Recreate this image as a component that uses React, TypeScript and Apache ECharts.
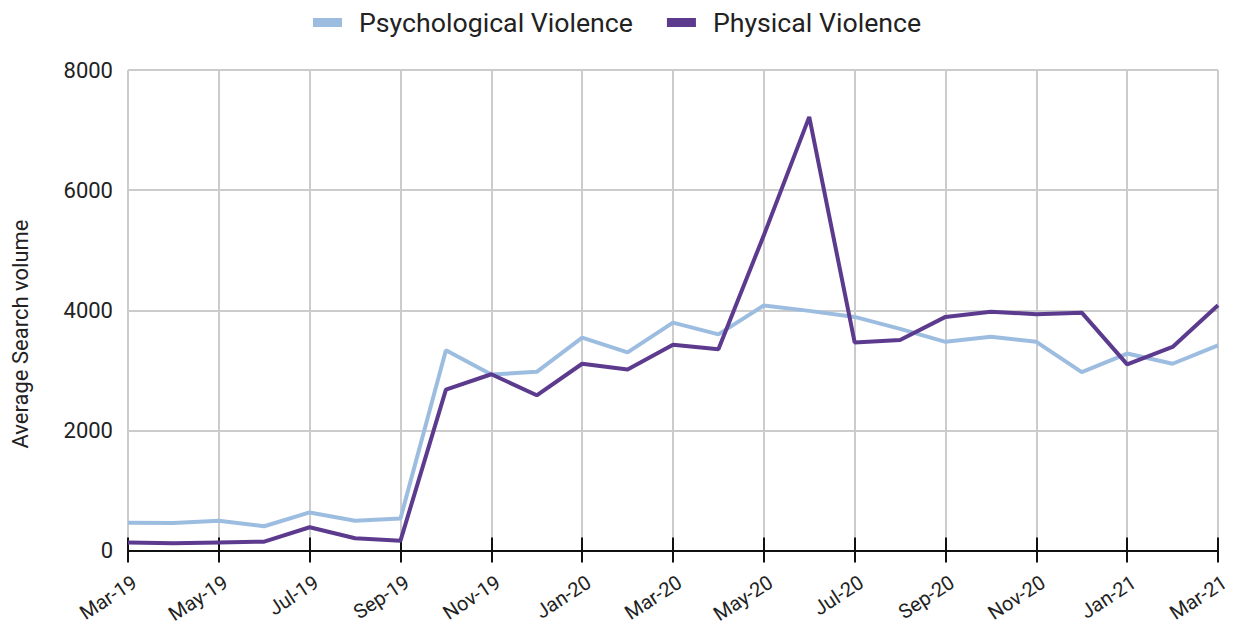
import React, { useEffect, useRef } from "react";
import * as echarts from "echarts";

const months = [
  "Mar-19", "Apr-19", "May-19", "Jun-19", "Jul-19", "Aug-19", "Sep-19", "Oct-19", "Nov-19", "Dec-19",
  "Jan-20", "Feb-20", "Mar-20", "Apr-20", "May-20", "Jun-20", "Jul-20", "Aug-20", "Sep-20", "Oct-20",
  "Nov-20", "Dec-20", "Jan-21", "Feb-21", "Mar-21",
];

const psychological = [
  465, 460, 495, 405, 635, 495, 535, 3335, 2930, 2975,
  3545, 3300, 3795, 3600, 4080, 3990, 3890, 3690, 3475, 3560,
  3475, 2970, 3280, 3110, 3415,
];

const physical = [
  135, 122, 135, 148, 388, 205, 165, 2680, 2935, 2585,
  3110, 3015, 3425, 3350, 5250, 7220, 3465, 3505, 3890, 3975,
  3935, 3960, 3100, 3390, 4085,
];

const yTicks = { min: 0, max: 8000, interval: 2000 };

export default function App() {
  const ref = useRef<HTMLDivElement>(null);
  useEffect(() => {
    if (!ref.current) return;
    document.body.style.margin = "0";
    const chart = echarts.init(ref.current, undefined, { renderer: "svg" });
    const font = "Roboto, 'Noto Sans', sans-serif";
    chart.setOption({
      animation: false,
      backgroundColor: "#ffffff",
      legend: {
        top: 4,
        left: 308,
        itemWidth: 29,
        itemHeight: 9,
        itemGap: 34,
        icon: "rect",
        textStyle: { fontFamily: font, fontSize: 26.7, color: "#222", padding: [0, 0, 0, 12] },
        data: ["Psychological Violence", "Physical Violence"],
      },
      grid: { left: 128, right: 20, top: 70, bottom: 74.5, containLabel: false },
      graphic: [
        {
          type: "text",
          x: 20,
          y: 334,
          rotation: Math.PI / 2,
          style: {
            text: "Average Search volume",
            fontFamily: font,
            fontSize: 22,
            fill: "#222",
            align: "center",
            verticalAlign: "middle",
          },
        },
      ],
      xAxis: [
        {
          type: "category",
          data: months,
          boundaryGap: false,
          position: "bottom",
          axisLine: { show: true, lineStyle: { color: "#111", width: 2 } },
          axisTick: {
            show: true,
            inside: true,
            length: 13,
            interval: (i: number) => i % 2 === 0,
            lineStyle: { color: "#111", width: 2 },
          },
          axisLabel: {
            interval: (i: number) => i % 2 === 0,
            rotate: 33,
            margin: 34,
            fontFamily: font,
            fontSize: 20,
            color: "#222",
            padding: [0, -8, 0, 0],
          },
          splitLine: {
            show: true,
            interval: (i: number) => i % 2 === 0,
            lineStyle: { color: "#cccccc", width: 2 },
          },
        },
        {
          type: "category",
          data: months,
          boundaryGap: false,
          position: "bottom",
          axisLine: { show: false },
          axisTick: {
            show: true,
            inside: false,
            length: 12,
            interval: (i: number) => i % 2 === 0,
            lineStyle: { color: "#111", width: 2 },
          },
          axisLabel: { show: false },
          splitLine: { show: false },
        },
      ],
      yAxis: {
        type: "value",
        min: yTicks.min,
        max: yTicks.max,
        interval: yTicks.interval,
        axisLine: { show: false },
        axisTick: { show: false },
        axisLabel: {
          fontFamily: font,
          fontSize: 22,
          color: "#222",
          margin: 15,
          formatter: (v: number) => String(v),
        },
        splitLine: { show: true, lineStyle: { color: "#cccccc", width: 2 } },
      },
      series: [
        {
          name: "Psychological Violence",
          type: "line",
          data: psychological,
          symbol: "none",
          color: "#9dbde0",
          lineStyle: { color: "#9dbde0", width: 4 },
          xAxisIndex: 0,
        },
        {
          name: "Physical Violence",
          type: "line",
          data: physical,
          symbol: "none",
          color: "#5c3b8e",
          lineStyle: { color: "#5c3b8e", width: 4 },
          xAxisIndex: 0,
        },
      ],
    });
    return () => chart.dispose();
  }, []);
  return <div ref={ref} style={{ width: 1238, height: 626 }} />;
}
